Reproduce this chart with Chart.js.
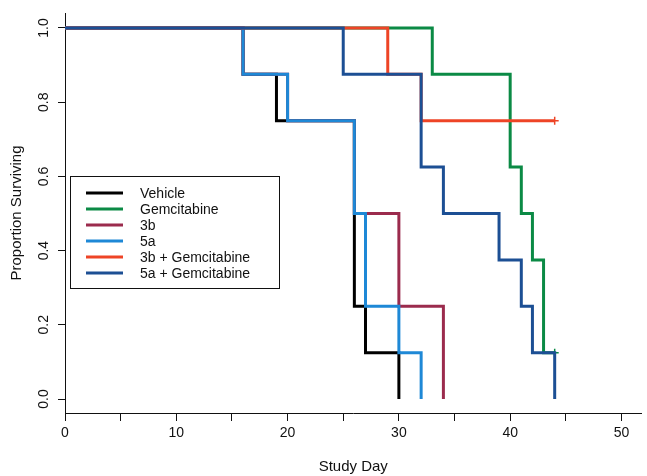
<!DOCTYPE html>
<html>
<head>
<meta charset="utf-8">
<script src="https://cdn.jsdelivr.net/npm/chart.js@4"></script>
<style>
  body { margin: 0; background: #fff; }
  canvas { display: block; }
</style>
</head>
<body>
<canvas id="chart" width="647" height="476"></canvas>
<script>
// survival steps per group (day of event, proportion surviving after it)
const groupNames = ['Vehicle', 'Gemcitabine', '3b', '5a', '3b + Gemcitabine', '5a + Gemcitabine'];
const groupColors = ['#000000', '#0b8a45', '#9b2b4d', '#1e88d6', '#ee4426', '#1c4f94'];

const vehicleDays = [0, 16, 19, 26, 27, 30];
const vehicleSurv = [1, 0.875, 0.75, 0.25, 0.125, 0];
const gemDays = [0, 33, 40, 41, 42, 43, 44];
const gemSurv = [1, 0.875, 0.625, 0.5, 0.375, 0.125, 0.125];
const b3Days = [0, 16, 20, 26, 30, 34];
const b3Surv = [1, 0.875, 0.75, 0.5, 0.25, 0];
const a5Days = [0, 16, 20, 26, 27, 30, 32];
const a5Surv = [1, 0.875, 0.75, 0.5, 0.25, 0.125, 0];
const b3GemDays = [0, 29, 32, 44];
const b3GemSurv = [1, 0.875, 0.75, 0.75];
const a5GemDays = [0, 25, 32, 34, 39, 41, 42, 44];
const a5GemSurv = [1, 0.875, 0.625, 0.5, 0.375, 0.25, 0.125, 0];
// last point is a censored observation (drawn as +)
const censoredEnd = [false, true, false, false, true, false];

const xTicks = [0, 5, 10, 15, 20, 25, 30, 35, 40, 45, 50];
const yTicks = [0, 0.2, 0.4, 0.6, 0.8, 1.0];

const allDays = [vehicleDays, gemDays, b3Days, a5Days, b3GemDays, a5GemDays];
const allSurv = [vehicleSurv, gemSurv, b3Surv, a5Surv, b3GemSurv, a5GemSurv];

const datasets = groupNames.map((name, i) => {
  const pts = allDays[i].map((d, j) => ({ x: d, y: allSurv[i][j] }));
  const last = pts.length - 1;
  return {
    label: name,
    data: pts,
    order: groupNames.length - i, // later groups drawn on top
    stepped: true,
    borderColor: groupColors[i],
    backgroundColor: groupColors[i],
    borderWidth: 3,
    borderJoinStyle: 'miter',
    fill: false,
    pointStyle: 'cross',
    pointBorderWidth: 1.5,
    pointRadius: ctx => (censoredEnd[i] && ctx.dataIndex === last) ? 4 : 0,
    pointHoverRadius: 0
  };
});

const font = 'Liberation Sans, Arial, sans-serif';

// rotated y tick labels + legend box inside the plot
const extras = {
  id: 'extras',
  afterDraw(chart) {
    const ctx = chart.ctx;
    const ys = chart.scales.y;
    ctx.save();
    ctx.fillStyle = '#111';
    ctx.font = '14px ' + font;
    ctx.textAlign = 'center';
    ctx.textBaseline = 'middle';
    yTicks.forEach(v => {
      ctx.save();
      ctx.translate(44, ys.getPixelForValue(v));
      ctx.rotate(-Math.PI / 2);
      ctx.fillText(v.toFixed(1), 0, 0);
      ctx.restore();
    });

    // legend
    const bx = 70, by = 176, bw = 209, bh = 112;
    ctx.fillStyle = '#fff';
    ctx.fillRect(bx, by, bw, bh);
    ctx.strokeStyle = '#111';
    ctx.lineWidth = 1;
    ctx.strokeRect(bx + 0.5, by + 0.5, bw, bh);
    ctx.textAlign = 'left';
    groupNames.forEach((name, i) => {
      const y = 193 + i * 16;
      ctx.strokeStyle = groupColors[i];
      ctx.lineWidth = 3;
      ctx.beginPath();
      ctx.moveTo(86, y);
      ctx.lineTo(123, y);
      ctx.stroke();
      ctx.fillStyle = '#111';
      ctx.fillText(name, 140, y + 1);
    });
    ctx.restore();
  }
};

new Chart(document.getElementById('chart'), {
  type: 'line',
  data: { datasets },
  options: {
    responsive: false,
    devicePixelRatio: 1,
    animation: false,
    layout: { padding: { top: 13, right: 0, left: 0, bottom: 0 } },
    plugins: { legend: { display: false }, tooltip: { enabled: false } },
    scales: {
      x: {
        type: 'linear',
        min: 0,
        max: 51.8,
        afterBuildTicks: s => { s.ticks = xTicks.map(v => ({ value: v })); },
        afterFit: s => { s.height = 63; },
        grid: { drawOnChartArea: false, drawTicks: true, tickLength: 8, color: '#111' },
        border: { display: true, color: '#111', width: 1 },
        ticks: {
          color: '#111',
          font: { family: font, size: 14 },
          padding: 4,
          maxRotation: 0,
          callback: v => (v % 10 === 0 ? String(v) : '')
        },
        title: {
          display: true,
          text: 'Study Day',
          color: '#111',
          font: { family: font, size: 15 },
          padding: { top: 0, bottom: 0 }
        }
      },
      y: {
        type: 'linear',
        min: -0.0377,
        max: 1.0404,
        afterBuildTicks: s => { s.ticks = yTicks.map(v => ({ value: v })); },
        afterFit: s => { s.width = 65; },
        grid: { drawOnChartArea: false, drawTicks: true, tickLength: 7, color: '#111' },
        border: { display: true, color: '#111', width: 1 },
        ticks: { display: false },
        title: {
          display: true,
          text: 'Proportion Surviving',
          color: '#111',
          font: { family: font, size: 15 },
          padding: { top: 8, bottom: 0 }
        }
      }
    }
  },
  plugins: [extras]
});
</script>
</body>
</html>
